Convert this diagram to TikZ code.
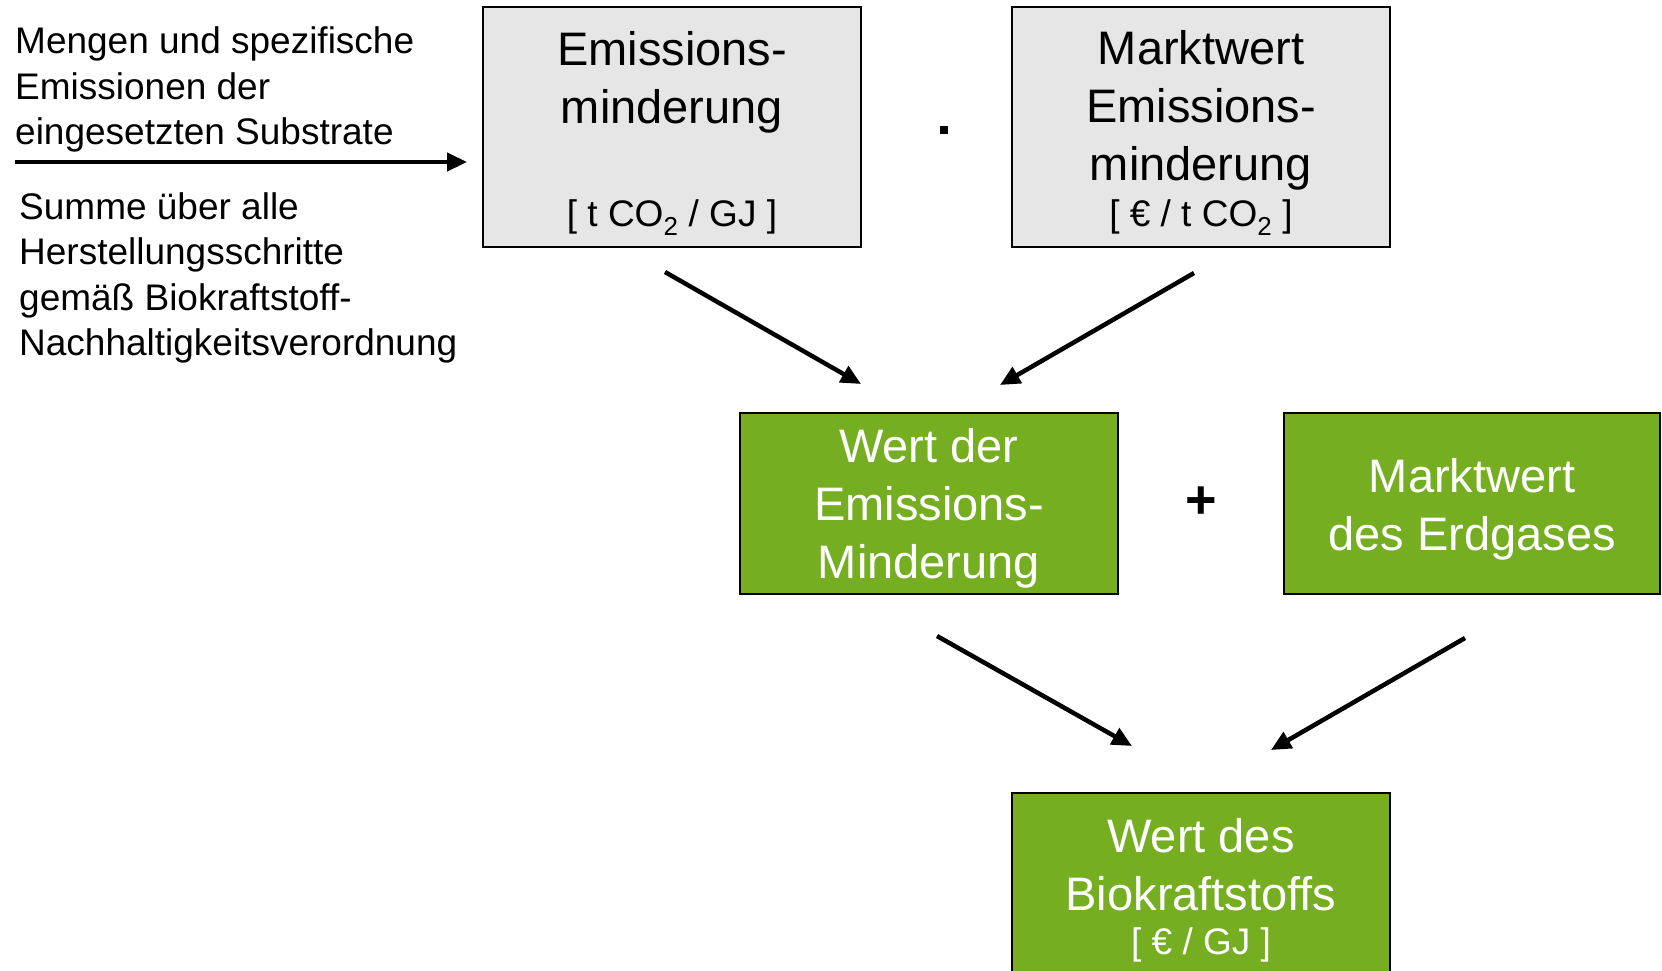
\documentclass[tikz,border=0pt]{standalone}
\usepackage{fontspec}
\setmainfont{Liberation Sans}
\usetikzlibrary{arrows.meta}
\definecolor{boxgray}{RGB}{230,230,230}
\definecolor{boxgreen}{RGB}{118,174,34}
\begin{document}
\begin{tikzpicture}[x=1pt,y=-1pt,
  box/.style={draw=black,line width=1.5pt,minimum width=378pt,inner sep=0pt},
  graybox/.style={box,fill=boxgray,minimum height=240pt},
  greenbox/.style={box,fill=boxgreen,minimum height=181pt},
  bigtxt/.style={inner sep=0pt,align=center,font=\fontsize{47}{58}\selectfont},
  unittxt/.style={inner sep=0pt,align=center,font=\fontsize{37}{44}\selectfont},
  lefttxt/.style={inner sep=0pt,align=left,anchor=west,font=\fontsize{37}{45.5}\selectfont},
  flow/.style={line width=4.5pt,-{Triangle[length=20pt,width=18pt]}}
]
\useasboundingbox (0,0) rectangle (1662,970);
% boxes
\node[graybox] (em) at (672,127) {};
\node[graybox] (mw) at (1201,127) {};
\node[greenbox] (wem) at (929,503.5) {};
\node[greenbox,minimum width=376pt] (mwe) at (1472,503.5) {};
\node[greenbox,minimum height=217pt] (wbk) at (1201,901.5) {};
% box texts
\node[bigtxt] (emt) at (672,82.5) {Emissions-\\minderung};
\node[unittxt] (emu) at (672,217.5) {[ t CO\textsubscript{2} / GJ ]};
\node[bigtxt] (mwt) at (1201,110.5) {Marktwert\\Emissions-\\minderung};
\node[unittxt] (mwu) at (1201,217.5) {[ € / t CO\textsubscript{2} ]};
\node[bigtxt,text=white] (wemt) at (929,508.5) {Wert der\\Emissions-\\Minderung};
\node[bigtxt,text=white] (mwet) at (1472,509.5) {Marktwert\\des Erdgases};
\node[bigtxt,text=white] (wbkt) at (1201,864.5) {Wert des\\Biokraftstoffs};
\node[unittxt,text=white] (wbku) at (1201,945) {[ € / GJ ]};
% operators
\node[fill=black,inner sep=0pt,minimum size=8pt] (dot) at (944,130) {};
\node[inner sep=0pt,font=\bfseries\fontsize{54}{60}\selectfont] (plus) at (1201,503) {+};
% left texts
\node[lefttxt] (in1) at (15,89.5) {Mengen und spezifische\\Emissionen der\\eingesetzten Substrate};
\node[lefttxt] (in2) at (19,278) {Summe über alle\\Herstellungsschritte\\gemäß Biokraftstoff-\\Nachhaltigkeitsverordnung};
% connectors
\coordinate (h0) at (15,162);
\coordinate (h1) at (467,162);
\coordinate (a1s) at (665,272);
\coordinate (a1e) at (861,384);
\coordinate (a2s) at (1194,273);
\coordinate (a2e) at (1000,385);
\coordinate (a3s) at (937,636);
\coordinate (a3e) at (1132,746);
\coordinate (a4s) at (1465,638);
\coordinate (a4e) at (1271,750);
\draw[flow] (h0) -- (h1);
\draw[flow] (a1s) -- (a1e);
\draw[flow] (a2s) -- (a2e);
\draw[flow] (a3s) -- (a3e);
\draw[flow] (a4s) -- (a4e);
\end{tikzpicture}
\end{document}
